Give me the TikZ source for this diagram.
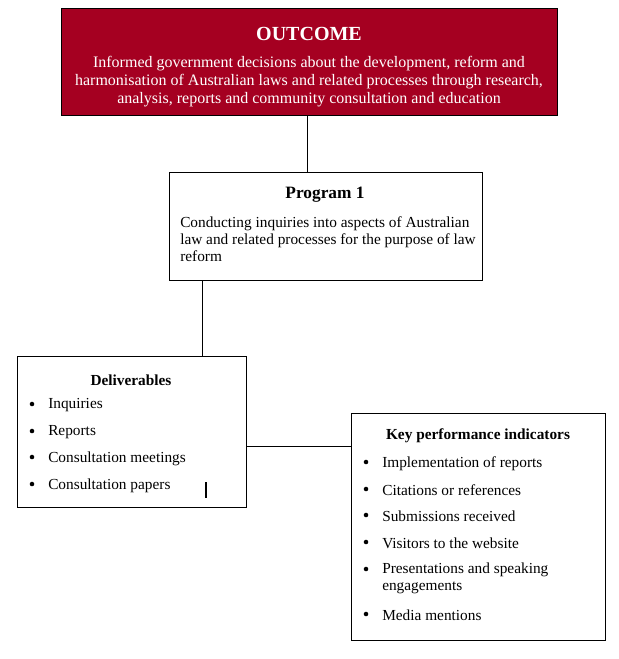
\documentclass[tikz,border=0pt]{standalone}
\usepackage{fontspec}
\setmainfont{Liberation Serif}
\usetikzlibrary{positioning}
\definecolor{outcomered}{RGB}{165,0,33}

\begin{document}
\begin{tikzpicture}[x=0.75pt, y=-0.75pt,
        box/.style={rectangle, draw=black, line width=0.75pt, inner sep=0pt, anchor=north west},
        headtext/.style={inner sep=0pt, font=\fontsize{11.5}{13.5}\selectfont\bfseries},
        bodytext/.style={inner sep=0pt, font=\fontsize{11.5}{12.8}\selectfont},
        itemtext/.style={bodytext, anchor=west, align=left},
        dot/.style={circle, fill=black, inner sep=0pt, minimum size=3.4pt},
        link/.style={line width=0.75pt}
    ]
    \useasboundingbox (0,0) rectangle (618,659);

    % Boxes
    \node[box, fill=outcomered, minimum width=372pt, minimum height=80.25pt] (outcome) at (61,8) {};
    \node[box, minimum width=234.75pt, minimum height=81pt] (program) at (169,172) {};
    \node[box, minimum width=171.75pt, minimum height=113.25pt] (deliv) at (17,356) {};
    \node[box, minimum width=190.5pt, minimum height=170.25pt] (kpi) at (351,413) {};

    % Outcome text
    \node[headtext, text=white, font=\fontsize{15}{17}\selectfont\bfseries] (outtitle) at (309,34) {OUTCOME};
    \node[bodytext, text=white, align=center, font=\fontsize{12}{13.2}\selectfont] (outbody) at (309,81.5)
        {Informed government decisions about the development, reform and\\
         harmonisation of Australian laws and related processes through research,\\
         analysis, reports and community consultation and education};

    % Program text
    \node[headtext, font=\fontsize{13}{15}\selectfont\bfseries] (progtitle) at (325,195) {Program 1};
    \node[itemtext] (progbody) at (180,239)
        {Conducting inquiries into aspects of Australian\\
         law and related processes for the purpose of law\\
         reform};

    % Deliverables
    \node[headtext] (delivtitle) at (131,380) {Deliverables};
    \foreach \y/\t [count=\i] in {404/Inquiries, 431/Reports, 457/Consultation meetings, 484/Consultation papers} {
        \node[dot] (db\i) at (32,\y) {};
        \node[itemtext] (di\i) at (48,\y+1.5) {\t};
    }
    \coordinate (mark) at (206,482);
    \draw[line width=1.4pt] (mark) -- ++(0,16);

    % Key performance indicators
    \node[headtext] (kpititle) at (478,436) {Key performance indicators};
    \foreach \y/\t [count=\i] in {462/Implementation of reports, 489/Citations or references, 515/Submissions received, 542/Visitors to the website, 614/Media mentions} {
        \node[dot] (kb\i) at (366,\y) {};
        \node[itemtext] (ki\i) at (382,\y+1.5) {\t};
    }
    \node[dot] (kb6) at (366,569) {};
    \node[itemtext] (ki6) at (382,578.5) {Presentations and speaking\\engagements};

    % Connectors
    \coordinate (j1) at (307,0);
    \coordinate (j2) at (202,0);
    \coordinate (j3) at (0,446);
    \draw[link] (j1 |- outcome.south) -- (j1 |- program.north);
    \draw[link] (j2 |- program.south) -- (j2 |- deliv.north);
    \draw[link] (deliv.east |- j3) -- (kpi.west |- j3);
\end{tikzpicture}
\end{document}
